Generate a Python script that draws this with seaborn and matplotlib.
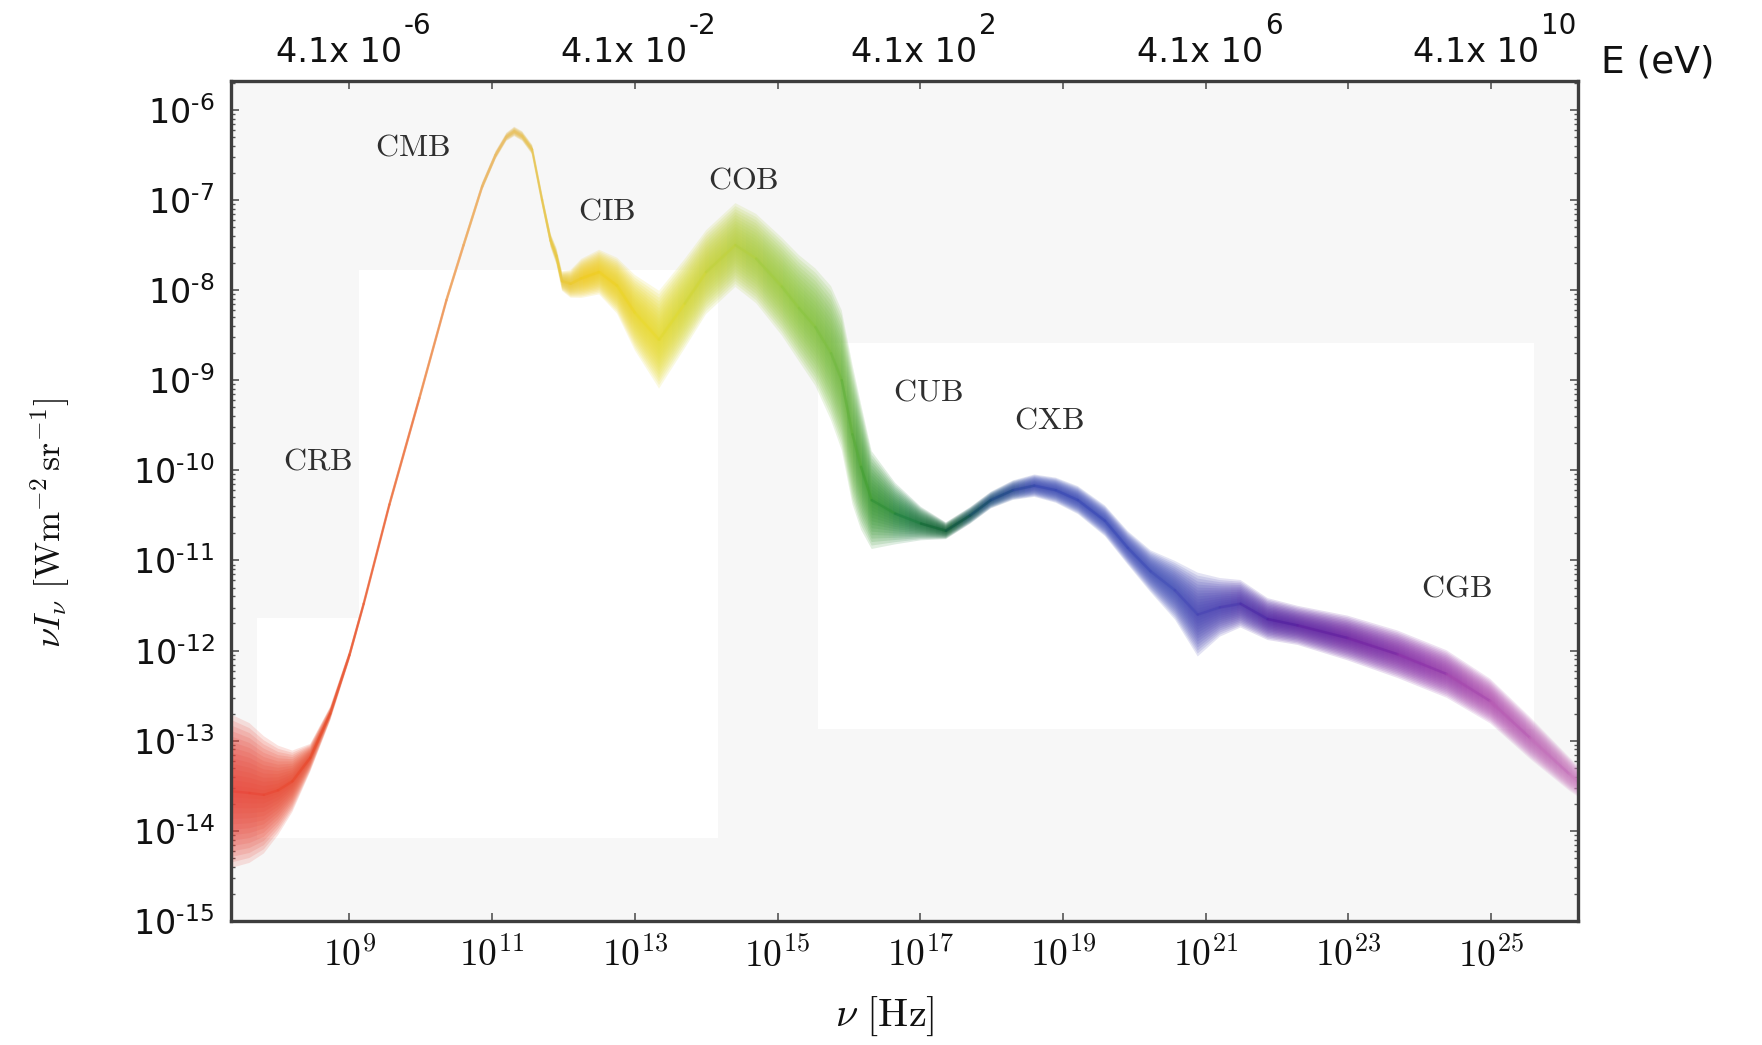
import numpy as np
import pandas as pd
import matplotlib
matplotlib.use("Agg")
import matplotlib.pyplot as plt
import seaborn as sns
from matplotlib.colors import LinearSegmentedColormap
from matplotlib.collections import PolyCollection
from matplotlib.patches import Polygon, Rectangle
from matplotlib.ticker import FixedLocator, LogLocator, NullFormatter, NullLocator

# ---- spectrum of the extragalactic background light, log10 units ----
freq_exp = [7.34, 7.6, 7.8, 8.0, 8.2, 8.45, 8.73, 9.0, 9.2, 9.56, 9.98, 10.36,
            10.6, 10.86, 11.05, 11.2, 11.31, 11.42, 11.56, 11.7, 11.82, 11.9,
            11.98, 12.1, 12.25, 12.5, 12.75, 13.0, 13.34, 13.7, 14.0, 14.41,
            14.7, 15.06, 15.3, 15.53, 15.75, 15.9, 16.05, 16.17, 16.32, 16.65,
            17.01, 17.36, 17.7, 17.99, 18.3, 18.6, 18.9, 19.21, 19.59, 19.91,
            20.23, 20.57, 20.89, 21.2, 21.49, 21.87, 22.29, 22.99, 23.69, 24.38,
            24.99, 25.55, 26.1, 26.22]
intensity_exp = [-13.56, -13.58, -13.6, -13.55, -13.45, -13.19, -12.7, -12.05,
                 -11.48, -10.38, -9.2, -8.11, -7.5, -6.85, -6.5, -6.3, -6.24,
                 -6.29, -6.44, -7.0, -7.45, -7.62, -7.9, -7.93, -7.87, -7.8,
                 -7.95, -8.25, -8.55, -8.15, -7.8, -7.5, -7.65, -7.96, -8.2,
                 -8.41, -8.7, -9.0, -9.6, -9.96, -10.33, -10.48, -10.59, -10.67,
                 -10.5, -10.33, -10.22, -10.17, -10.22, -10.33, -10.56, -10.86,
                 -11.12, -11.33, -11.6, -11.52, -11.48, -11.65, -11.72, -11.86,
                 -12.04, -12.26, -12.56, -12.97, -13.37, -13.45]
# half-width of the uncertainty band, in decades
spread_dex = [0.55, 0.5, 0.42, 0.32, 0.22, 0.1, 0.05, 0.035, 0.03, 0.03, 0.03,
              0.03, 0.03, 0.03, 0.03, 0.03, 0.035, 0.035, 0.035, 0.04, 0.05,
              0.06, 0.07, 0.1, 0.14, 0.16, 0.2, 0.27, 0.35, 0.32, 0.3, 0.3,
              0.32, 0.35, 0.38, 0.42, 0.48, 0.5, 0.5, 0.45, 0.35, 0.22, 0.12,
              0.06, 0.06, 0.06, 0.07, 0.08, 0.09, 0.1, 0.11, 0.12, 0.15, 0.21,
              0.3, 0.21, 0.17, 0.15, 0.14, 0.16, 0.17, 0.17, 0.16, 0.15, 0.12, 0.11]

# colour of the band along the frequency axis
colour_exp = [7.34, 8.5, 9.5, 10.5, 11.3, 11.9, 12.3, 13.3, 14.4, 15.3, 15.9,
              16.3, 16.8, 17.4, 18.0, 18.6, 19.6, 20.5, 21.3, 22.0, 23.0, 24.0,
              25.0, 26.22]
colour_hex = ["#e8453a", "#e84a2a", "#ee6a3c", "#f0a862", "#e8c464", "#e8c840",
              "#f0cc20", "#e8dc30", "#b8d040", "#90c840", "#70b840", "#3a9a30",
              "#208040", "#0c5a30", "#1a4a7a", "#3848b0", "#3c4cb8", "#4450b8",
              "#4a3cb0", "#5020a0", "#6a20a0", "#8a30a8", "#b050b0", "#cc80c0"]

# component names and where they are written (log10 Hz, log10 nuI_nu)
band_names = ["CRB", "CMB", "CIB", "COB", "CUB", "CXB", "CGB"]
band_label_x = [8.55, 9.88, 12.61, 14.52, 17.11, 18.8, 24.51]
band_label_y = [-9.9, -6.41, -7.12, -6.78, -9.13, -9.44, -11.31]

x_tick_exp = [9, 11, 13, 15, 17, 19, 21, 23, 25]
y_tick_exp = [-15, -14, -13, -12, -11, -10, -9, -8, -7, -6]
energy_tick_exp = [9, 13, 17, 21, 25]
energy_tick_text = ["4.1x 10", "4.1x 10", "4.1x 10", "4.1x 10", "4.1x 10"]
energy_tick_power = ["-6", "-2", "2", "6", "10"]

# ---- style ----
sns.set_theme(style="ticks")
plt.rcParams["font.family"] = ["DejaVu Sans"]
plt.rcParams["mathtext.fontset"] = "cm"
plt.rcParams["axes.unicode_minus"] = True

W, H = 1762, 1045
fig = plt.figure(figsize=(W / 100, H / 100), dpi=100)
fig.patch.set_facecolor("white")
ax = fig.add_axes([231 / W, 1 - 921 / H, (1578 - 231) / W, (921 - 81) / H])
ax.set_xscale("log")
ax.set_yscale("log")
ax.set_facecolor("#f7f7f7")

xmin, xmax = 10 ** 7.34, 10 ** 26.22
ymin, ymax = 1e-15, 10 ** -5.68

# lighter panels behind the curve
for (x0, x1, y0, y1) in [(9.14, 14.16, -14.08, -7.78),
                         (15.57, 25.6, -12.87, -8.59),
                         (7.71, 9.14, -14.08, -11.64)]:
    ax.add_patch(Rectangle((10 ** x0, 10 ** y0), 10 ** x1 - 10 ** x0,
                           10 ** y1 - 10 ** y0, facecolor="white",
                           edgecolor="none", zorder=0.5))

fx = np.array(freq_exp)
fy = np.array(intensity_exp)
fw = np.array(spread_dex)
nu = 10 ** fx

c_pos = (np.array(colour_exp) - colour_exp[0]) / (colour_exp[-1] - colour_exp[0])
cmap = LinearSegmentedColormap.from_list("spectrum", list(zip(c_pos, colour_hex)))


def colour_at(e):
    return cmap((np.asarray(e) - colour_exp[0]) / (colour_exp[-1] - colour_exp[0]))


# vertical colour strips, clipped to nested band outlines for a soft edge
edges = np.linspace(7.3, 26.3, 700)
mids = 0.5 * (edges[:-1] + edges[1:])
strip_cols = colour_at(mids)
strip_verts = [[(10 ** a, 1e-17), (10 ** b, 1e-17), (10 ** b, 1e-4), (10 ** a, 1e-4)]
               for a, b in zip(edges[:-1], edges[1:])]

for scale in np.linspace(1.55, 0.12, 14):
    hi = 10 ** (fy + scale * fw)
    lo = 10 ** (fy - scale * fw)
    outline = Polygon(np.column_stack([np.r_[nu, nu[::-1]], np.r_[hi, lo[::-1]]]),
                      closed=True, facecolor="none", edgecolor="none",
                      transform=ax.transData)
    ax.add_patch(outline)
    strips = PolyCollection(strip_verts, facecolors=strip_cols, edgecolors="none",
                            alpha=0.15, antialiased=False, zorder=2)
    ax.add_collection(strips)
    strips.set_clip_path(outline)

# central curve, coloured segment by segment
rows = []
for i in range(len(fx) - 1):
    key = f"s{i:03d}"
    rows.append((key, nu[i], 10 ** fy[i]))
    rows.append((key, nu[i + 1], 10 ** fy[i + 1]))
curve = pd.DataFrame(rows, columns=["segment", "nu", "nuI"])
seg_palette = {f"s{i:03d}": colour_at(0.5 * (fx[i] + fx[i + 1]))
               for i in range(len(fx) - 1)}
sns.lineplot(data=curve, x="nu", y="nuI", hue="segment", palette=seg_palette,
             estimator=None, sort=False, legend=False, linewidth=1.8,
             alpha=0.6, ax=ax, zorder=3)

# component labels
for name, lx, ly in zip(band_names, band_label_x, band_label_y):
    ax.text(10 ** lx, 10 ** ly, rf"$\mathrm{{{name}}}$", ha="center", va="center",
            fontsize=23, color="#2f2f2f", zorder=4)

# ---- axes ----
ax.set_xlim(xmin, xmax)
ax.set_ylim(ymin, ymax)

ax.xaxis.set_major_locator(FixedLocator(10.0 ** np.array(x_tick_exp)))
ax.xaxis.set_minor_locator(NullLocator())
ax.set_xticklabels([rf"$10^{{{e}}}$" for e in x_tick_exp])
ax.yaxis.set_major_locator(FixedLocator(10.0 ** np.array(y_tick_exp, dtype=float)))
ax.yaxis.set_minor_locator(LogLocator(base=10, subs=np.arange(2, 10)))
ax.yaxis.set_minor_formatter(NullFormatter())
ax.set_yticklabels([rf"$\mathdefault{{10^{{{str(e).replace('-', chr(0x2010))}}}}}$"
                    for e in y_tick_exp])

ax.tick_params(axis="x", which="major", direction="in", top=True, length=6,
               width=1.2, color="#555555", labelsize=27, pad=12, labelcolor="#111111")
ax.tick_params(axis="y", which="major", direction="in", right=True, length=6,
               width=1.2, color="#555555", labelsize=24, pad=12, labelcolor="#111111")
ax.tick_params(axis="y", which="minor", direction="in", right=True, length=3,
               width=1.0, color="#555555")
for s in ax.spines.values():
    s.set_linewidth(2.4)
    s.set_color("#3d3d3d")
    s.set_zorder(5)

ax.set_xlabel(r"$\nu\ [\mathrm{Hz}]$", fontsize=29, color="#111111", va="center")
ax.xaxis.set_label_coords(0.485, -0.114)
ax.set_ylabel(r"$\nu I_\nu\ [\mathrm{Wm}^{-2}\,\mathrm{sr}^{-1}]$", fontsize=26,
              color="#111111", va="center")
ax.yaxis.set_label_coords(-0.134, 0.474)

# photon energy labels along the top edge: mantissa text plus a raised exponent
renderer = fig.canvas.get_renderer()
for e, base, power in zip(energy_tick_exp, energy_tick_text, energy_tick_power):
    anchor = dict(xy=(10.0 ** e, 1.0), xycoords=("data", "axes fraction"),
                  textcoords="offset pixels", va="center", ha="left",
                  color="#111111", annotation_clip=False)
    t_base = ax.annotate(base, xytext=(0, 28), fontsize=24, **anchor)
    t_pow = ax.annotate(power, xytext=(0, 55), fontsize=20, **anchor)
    wb = t_base.get_window_extent(renderer).width
    wp = t_pow.get_window_extent(renderer).width
    left = -(wb + wp + 2) / 2 + 4
    t_base.xyann = (left, 28)
    t_pow.xyann = (left + wb + 2, 55)

fig.text(1601 / W, 1 - 62 / H, "E (eV)", ha="left", va="center", fontsize=27,
         color="#111111")

fig.savefig("out.png", dpi=100)
